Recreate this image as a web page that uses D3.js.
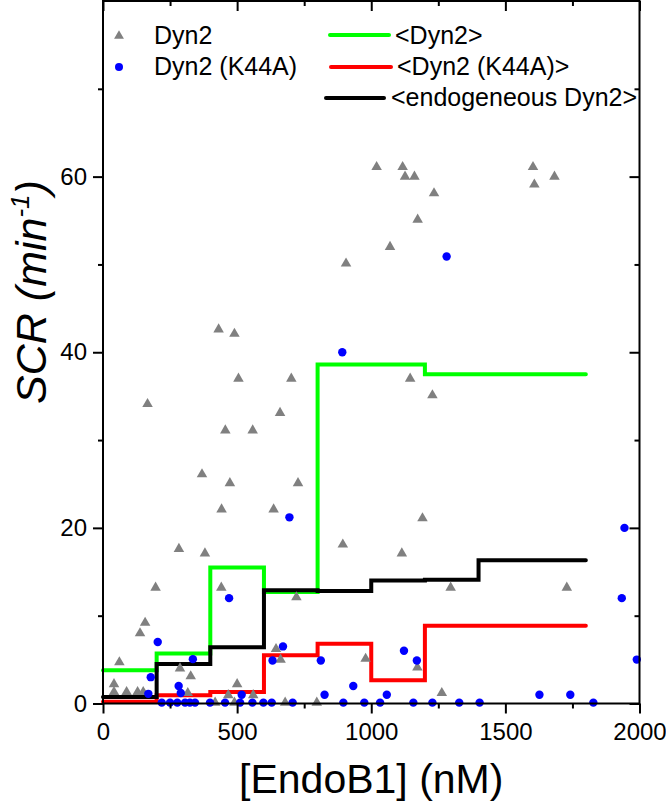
<!DOCTYPE html>
<html><head><meta charset="utf-8">
<script src="https://cdn.jsdelivr.net/npm/d3@7"></script>
<style>html,body{margin:0;padding:0;background:#fff;}svg{display:block;font-family:"Liberation Sans",Arial,sans-serif;}</style>
</head><body><svg id="c" width="666" height="811"></svg>
<script>
// Dyn2 (gray triangles)
const dyn2X = [1020,1070,906,431,490,505,702,166,660,456,558,369,473,727,1117,1126,1161,1234,1173,1603,1683,1608,1145,1228,442,636,894,283,380,196,441,721,157,138,645,662,979,61,287,327,41,500,41,88,129,150,316,467,560,1191,1114,1296,1729,1172,1263,418,490,679,797];
const dyn2Y = [61.1,52.0,50.1,42.6,42.1,37.0,37.0,34.1,33.1,31.1,31.1,26.1,25.1,25.1,61.1,60.0,60.0,58.1,55.1,61.1,60.0,59.1,37.0,35.1,22.1,22.1,18.1,17.6,17.1,13.2,13.2,12.1,9.2,8.0,6.2,5.0,5.1,4.7,4.0,3.1,2.2,2.2,1.3,1.3,1.3,1.3,1.2,0.95,0.95,21.1,17.1,13.2,13.2,4.1,1.2,0.1,0.1,0.1,0.1];
// Dyn2 (K44A) (blue dots)
const k44aX = [892,1281,695,470,1944,1934,1990,1122,1170,1058,1627,1742,933,826,812,204,671,632,335,178,282,169,290,517,219,250,277,306,324,343,399,455,511,557,598,629,707,896,974,1033,1157,1228,1328,1404,1828];
const k44aY = [40.0,50.9,21.2,12.0,20.0,12.0,5.0,6.0,4.9,1.0,1.0,1.0,2.0,1.0,4.9,7.0,6.5,4.9,5.05,3.0,2.0,1.1,1.2,1.0,0.1,0.1,0.1,0.1,0.1,0.1,0.1,0.1,0.1,0.1,0.1,0.1,0.1,0.1,0.1,0.1,0.1,0.1,0.1,0.1,0.1];
// binned means (bin edges)
const binEdges = [0,200,400,600,800,1000,1200,1400,1600,1800];
const meanDyn2 = [3.8,5.7,15.5,12.7,38.6,38.6,37.5,37.5,37.5];
const meanK44A = [0.2,0.95,1.3,5.5,6.8,2.65,8.85,8.85,8.85];
const meanEndo = [0.75,4.5,6.4,12.9,12.8,14.0,14.1,16.3,16.3];
const xTicks = [0,500,1000,1500,2000];
const yTicks = [0,20,40,60];

const svg = d3.select("#c");
const L=103, R=639.5, T=1, B=703.5;
const x = d3.scaleLinear().domain([0,2000]).range([L,R]);
const y = d3.scaleLinear().domain([0,80]).range([B,T]);

// step lines
function stepData(vals){ const d=vals.map((v,i)=>[binEdges[i],v]); d.push([binEdges[binEdges.length-1], vals[vals.length-1]]); return d; }
const line = d3.line().x(d=>x(d[0])).y(d=>y(d[1])).curve(d3.curveStepAfter);
[[meanDyn2,"#00ff00"],[meanK44A,"#ff0000"],[meanEndo,"#000000"]].forEach(([v,c])=>{
  svg.append("path").attr("d",line(stepData(v))).attr("fill","none").attr("stroke",c).attr("stroke-width",4).attr("stroke-linejoin","miter").attr("stroke-linecap","round");
});

const tri = d3.symbol().type(d3.symbolTriangle).size(48);
svg.append("g").selectAll("path").data(dyn2X.map((d,i)=>[d,dyn2Y[i]])).join("path")
  .attr("d",tri).attr("transform",d=>`translate(${x(d[0])},${y(d[1])})`).attr("fill","#808080");
svg.append("g").selectAll("circle").data(k44aX.map((d,i)=>[d,k44aY[i]])).join("circle")
  .attr("cx",d=>x(d[0])).attr("cy",d=>y(d[1])).attr("r",4.2).attr("fill","#0000ff");

// axes
const fs = 24, lfs = 25;
function styleAxis(g){ g.select(".domain").remove(); g.selectAll("line").attr("stroke","#000").attr("stroke-width",2); g.selectAll("text").attr("font-size",fs).attr("fill","#000").style("font-family","'Liberation Sans',Arial,sans-serif"); }
const xMinor = d3.range(250,2000,500);
const yMinor = d3.range(10,80,20);
svg.append("g").attr("transform",`translate(0,${B})`).call(d3.axisBottom(x).tickValues(xTicks).tickSize(10).tickPadding(9).tickFormat(d3.format("d"))).call(styleAxis);
svg.append("g").attr("transform",`translate(0,${B})`).call(d3.axisBottom(x).tickValues(xMinor).tickSize(5).tickFormat("")).call(styleAxis);
svg.append("g").attr("transform",`translate(${L},0)`).call(d3.axisLeft(y).tickValues(yTicks).tickSize(10).tickPadding(6)).call(styleAxis);
svg.append("g").attr("transform",`translate(${L},0)`).call(d3.axisLeft(y).tickValues(yMinor).tickSize(5).tickFormat("")).call(styleAxis);
svg.append("g").attr("transform",`translate(0,${T})`).call(d3.axisBottom(x).tickValues(xTicks).tickSize(10).tickFormat("")).call(styleAxis);
svg.append("g").attr("transform",`translate(0,${T})`).call(d3.axisBottom(x).tickValues(xMinor).tickSize(5).tickFormat("")).call(styleAxis);
svg.append("g").attr("transform",`translate(${R},0)`).call(d3.axisLeft(y).tickValues(yTicks).tickSize(10).tickFormat("")).call(styleAxis);
svg.append("g").attr("transform",`translate(${R},0)`).call(d3.axisLeft(y).tickValues(yMinor).tickSize(5).tickFormat("")).call(styleAxis);
svg.append("rect").attr("x",L).attr("y",T).attr("width",R-L).attr("height",B-T).attr("fill","none").attr("stroke","#000").attr("stroke-width",2);

// axis titles
svg.append("text").attr("x",(L+R)/2).attr("y",793).attr("text-anchor","middle").attr("font-size",41).text("[EndoB1] (nM)");
const yt = svg.append("text").attr("transform","translate(46,292) rotate(-90)").attr("text-anchor","middle").attr("font-size",43).attr("font-style","italic");
yt.append("tspan").text("SCR (min");
yt.append("tspan").attr("font-size",26).attr("dy",-17).text("-1");
yt.append("tspan").attr("dy",17).text(")");

// legend
const lg = svg.append("g");
lg.append("path").attr("d",d3.symbol().type(d3.symbolTriangle).size(42)()).attr("transform","translate(119,36)").attr("fill","#808080");
lg.append("circle").attr("cx",119).attr("cy",67).attr("r",4).attr("fill","#0000ff");
lg.append("text").attr("x",154).attr("y",44).attr("font-size",lfs).text("Dyn2");
lg.append("text").attr("x",154).attr("y",75).attr("font-size",lfs).text("Dyn2 (K44A)");
[["#00ff00",330,389,35,395,44,"<Dyn2>"],["#ff0000",331,391,67,397,75,"<Dyn2 (K44A)>"],["#000000",326,384,98,391,106,"<endogeneous Dyn2>"]].forEach(([c,x1,x2,ly,tx,ty,t])=>{
  lg.append("line").attr("x1",x1).attr("x2",x2).attr("y1",ly).attr("y2",ly).attr("stroke",c).attr("stroke-width",4).attr("stroke-linecap","round");
  lg.append("text").attr("x",tx).attr("y",ty).attr("font-size",lfs).text(t);
});
</script></body></html>
